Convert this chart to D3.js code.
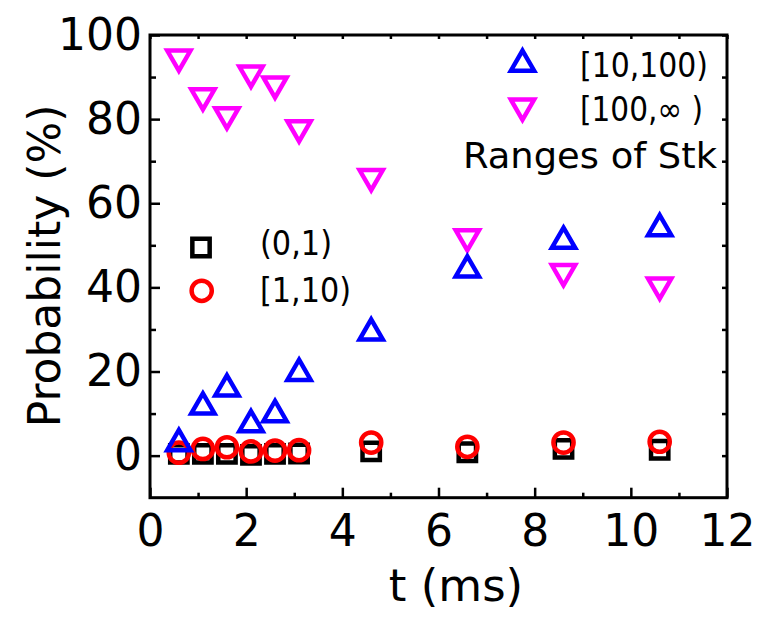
<!DOCTYPE html>
<html>
<head>
<meta charset="utf-8">
<script src="https://cdn.jsdelivr.net/npm/d3@7"></script>
<style>
  body { margin: 0; background: #fff; }
  svg { display: block; font-family: "DejaVu Sans", sans-serif; }
</style>
</head>
<body>
<div id="chart"></div>
<script>
// t (ms) for every series
const tValues = [0.6, 1.1, 1.6, 2.1, 2.6, 3.1, 4.6, 6.6, 8.6, 10.6];
// probability (%) per Stk range
const stk0to1 = [0.4, 0.4, 0.4, 0.2, 0.4, 0.5, 1.0, 0.8, 1.6, 1.4];
const stk1to10 = [0.7, 1.6, 2.0, 1.0, 1.2, 1.3, 3.1, 2.1, 3.1, 3.3];
const stk10to100 = [2.9, 11.6, 15.9, 7.4, 9.8, 19.6, 29.2, 44.2, 51.0, 54.0];
const stk100toInf = [94.7, 85.5, 81.0, 90.9, 88.3, 77.9, 66.3, 52.0, 43.7, 40.5];

const xMajor = [0, 2, 4, 6, 8, 10, 12];
const xMinor = [1, 3, 5, 7, 9, 11];
const yMajor = [0, 20, 40, 60, 80, 100];
const yMinor = [10, 30, 50, 70, 90];

const width = 763, height = 619;
const margin = { top: 35, right: 36, bottom: 121.3, left: 150 };
const innerWidth = width - margin.left - margin.right;
const innerHeight = height - margin.top - margin.bottom;

const svg = d3.select('#chart').append('svg')
  .attr('width', width)
  .attr('height', height);

const g = svg.append('g')
  .attr('transform', `translate(${margin.left}, ${margin.top})`);

const xScale = d3.scaleLinear().domain([0, 12]).range([0, innerWidth]);
const yScale = d3.scaleLinear().domain([-10, 100]).range([innerHeight, 0]);

const series = [
  { name: '(0,1)', values: stk0to1, symbol: d3.symbolSquare, size: 300, color: '#000000', rotate: 0 },
  { name: '[1,10)', values: stk1to10, symbol: d3.symbolCircle, size: 320, color: '#ff0000', rotate: 0 },
  { name: '[100,\u221e )', values: stk100toInf, symbol: d3.symbolTriangle, size: 235, color: '#ff00ff', rotate: 180 },
  { name: '[10,100)', values: stk10to100, symbol: d3.symbolTriangle, size: 235, color: '#0000ff', rotate: 0 },
];

// markers
series.forEach(s => {
  const path = d3.symbol().type(s.symbol).size(s.size)();
  g.append('g').selectAll('path')
    .data(tValues.map((t, i) => [t, s.values[i]]))
    .enter().append('path')
      .attr('d', path)
      .attr('transform', d => `translate(${xScale(d[0])}, ${yScale(d[1])}) rotate(${s.rotate})`)
      .attr('fill', 'none')
      .attr('stroke', s.color)
      .attr('stroke-width', 4.5)
      .attr('stroke-linejoin', 'miter');
});

const axisStyle = AxisG => {
  AxisG.select('.domain').remove();
  AxisG.selectAll('line')
    .attr('stroke', '#000')
    .attr('stroke-width', 2.5);
  AxisG.selectAll('text')
    .attr('font-size', 44)
    .attr('font-family', '"DejaVu Sans", sans-serif')
    .attr('fill', '#000');
};
const noLabels = AxisG => {
  AxisG.select('.domain').remove();
  AxisG.selectAll('text').remove();
  AxisG.selectAll('line')
    .attr('stroke', '#000')
    .attr('stroke-width', 2.5);
};

// bottom
g.append('g')
  .attr('transform', `translate(0, ${innerHeight})`)
  .call(d3.axisBottom(xScale).tickValues(xMajor).tickSize(-10).tickPadding(17).tickFormat(d3.format('d')))
  .call(axisStyle);
g.append('g')
  .attr('transform', `translate(0, ${innerHeight})`)
  .call(d3.axisBottom(xScale).tickValues(xMinor).tickSize(-5))
  .call(noLabels);
// top
g.append('g')
  .call(d3.axisTop(xScale).tickValues(xMajor.concat(xMinor)).tickSize(-4))
  .call(noLabels);
// left
g.append('g')
  .call(d3.axisLeft(yScale).tickValues(yMajor).tickSize(-10).tickPadding(8).tickFormat(d3.format('d')))
  .call(axisStyle);
g.append('g')
  .call(d3.axisLeft(yScale).tickValues(yMinor).tickSize(-6))
  .call(noLabels);
// right
g.append('g')
  .attr('transform', `translate(${innerWidth}, 0)`)
  .call(d3.axisRight(yScale).tickValues(yMajor.concat(yMinor)).tickSize(-5))
  .call(noLabels);

// frame
g.append('rect')
  .attr('width', innerWidth)
  .attr('height', innerHeight)
  .attr('fill', 'none')
  .attr('stroke', '#000')
  .attr('stroke-width', 3);

// axis titles
svg.append('text')
  .attr('x', 456)
  .attr('y', 601)
  .attr('text-anchor', 'middle')
  .attr('font-size', 45)
  .text('t (ms)');

svg.append('text')
  .attr('transform', `translate(60, 266) rotate(-90)`)
  .attr('text-anchor', 'middle')
  .attr('font-size', 44)
  .text('Probability (%)');

// legends
const legendItems = [
  { s: series[0], mx: 201, my: 247.5, tx: 260, ty: 255, len: 72 },
  { s: series[1], mx: 201.7, my: 290.8, tx: 260, ty: 301.5, len: 91 },
  { s: series[3], mx: 522.5, my: 64, tx: 580, ty: 76.5, len: 128 },
  { s: series[2], mx: 522.5, my: 106.3, tx: 580, ty: 121, len: 123 },
];
legendItems.forEach(L => {
  svg.append('path')
    .attr('d', d3.symbol().type(L.s.symbol).size(L.s.size)())
    .attr('transform', `translate(${L.mx}, ${L.my}) rotate(${L.s.rotate})`)
    .attr('fill', 'none')
    .attr('stroke', L.s.color)
    .attr('stroke-width', 4.5);
  svg.append('text')
    .attr('x', L.tx)
    .attr('y', L.ty)
    .attr('font-size', 34)
    .attr('textLength', L.len)
    .attr('lengthAdjust', 'spacingAndGlyphs')
    .text(L.s.name);
});

svg.append('text')
  .attr('x', 463)
  .attr('y', 168)
  .attr('font-size', 36)
  .attr('textLength', 254)
  .attr('lengthAdjust', 'spacingAndGlyphs')
  .text('Ranges of Stk');
</script>
</body>
</html>
